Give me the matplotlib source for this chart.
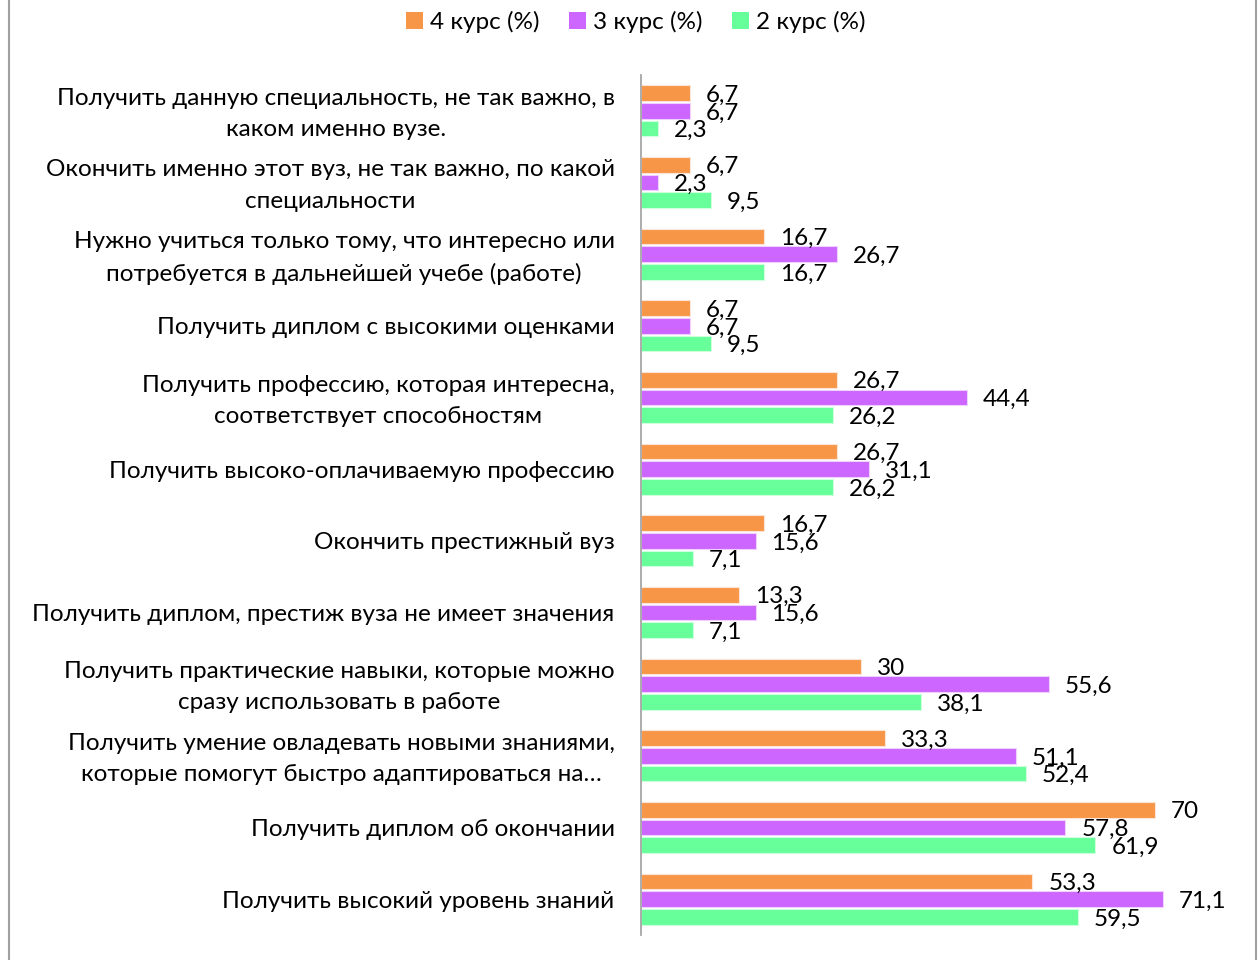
import matplotlib
matplotlib.use("Agg")
import matplotlib.pyplot as plt
import matplotlib.transforms as mtransforms
from matplotlib.lines import Line2D
from matplotlib.patches import Patch

plt.rcParams['font.family'] = ['Lato', 'DejaVu Sans']

categories = [
    "Получить данную специальность, не так важно, в\nкаком именно вузе.",
    "Окончить именно этот вуз, не так важно, по какой\nспециальности",
    "Нужно учиться только тому, что интересно или\nпотребуется в дальнейшей учебе (работе)",
    "Получить диплом с высокими оценками",
    "Получить профессию, которая интересна,\nсоответствует способностям",
    "Получить высоко-оплачиваемую профессию",
    "Окончить престижный вуз",
    "Получить диплом, престиж вуза не имеет значения",
    "Получить практические навыки, которые можно\nсразу использовать в работе",
    "Получить умение овладевать новыми знаниями,\nкоторые помогут быстро адаптироваться на…",
    "Получить диплом об окончании",
    "Получить высокий уровень знаний",
]
course4 = [6.7, 6.7, 16.7, 6.7, 26.7, 26.7, 16.7, 13.3, 30, 33.3, 70, 53.3]
course3 = [6.7, 2.3, 26.7, 6.7, 44.4, 31.1, 15.6, 15.6, 55.6, 51.1, 57.8, 71.1]
course2 = [2.3, 9.5, 16.7, 9.5, 26.2, 26.2, 7.1, 7.1, 38.1, 52.4, 61.9, 59.5]
series_names = ["4 курс (%)", "3 курс (%)", "2 курс (%)"]
colors = ["#F79646", "#CC66FF", "#66FF99"]
edges = ["#FCE4D6", "#F0D0FF", "#D0FFE0"]

W, H = 1259, 960
fig = plt.figure(figsize=(W / 100, H / 100), dpi=100)
ax = fig.add_axes([641 / W, 25 / H, 600 / W, 860 / H])

n = len(categories)
series = [course4, course3, course2]
offsets = [-0.248, 0.0, 0.248]
bh = 0.22
FS = 17.5

def fmt(v):
    return ("%g" % v).replace('.', ',')

for vals, off, col, ec in zip(series, offsets, colors, edges):
    ys = [i + off for i in range(n)]
    ax.barh(ys, vals, height=bh, color=col, edgecolor=ec, linewidth=0.8)
    for y, v in zip(ys, vals):
        ax.annotate(fmt(v), xy=(v, y), xytext=(11.5, -1.5), textcoords='offset points',
                    ha='left', va='center', fontsize=FS, color='#000000')

ax.set_ylim(n - 0.5, -0.5)
ax.set_xlim(0, 600 / 7.34)
ax.set_yticks(range(n))
ax.set_yticklabels(categories, fontsize=FS, multialignment='center', linespacing=1.6)
ax.tick_params(axis='y', length=0, pad=19)
ax.set_xticks([])
for s in ['top', 'right', 'bottom']:
    ax.spines[s].set_visible(False)
ax.spines['left'].set_color('#A6A6A6')
ax.spines['left'].set_linewidth(1.3)

shift = mtransforms.ScaledTranslation(0, 4 / 100, fig.dpi_scale_trans)
for lbl in ax.get_yticklabels():
    if "\n" in lbl.get_text():
        lbl.set_transform(lbl.get_transform() + shift)

handles = [Patch(facecolor=c, edgecolor='none') for c in colors]
fig.legend(handles, series_names, loc='center', bbox_to_anchor=(636 / W, 1 - 22 / H),
           ncol=3, frameon=False, fontsize=FS, handlelength=0.7, handleheight=0.7,
           handletextpad=0.3, columnspacing=1.2)

fig.add_artist(Line2D([8.5 / W, 8.5 / W], [0, 1], transform=fig.transFigure, color='#A0A0A0', lw=1.5))
fig.add_artist(Line2D([1255.5 / W, 1255.5 / W], [0, 1], transform=fig.transFigure, color='#A0A0A0', lw=1.5))

fig.savefig("out.png", dpi=100)
